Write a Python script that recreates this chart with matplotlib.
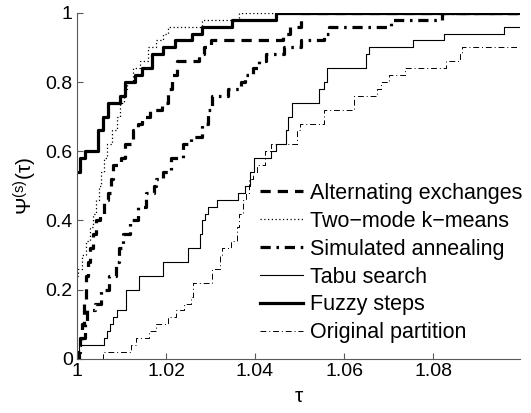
import numpy as np
import matplotlib
matplotlib.use("Agg")
import matplotlib.pyplot as plt

plt.rcParams['font.family'] = ['Liberation Sans', 'DejaVu Sans']
plt.rcParams['mathtext.default'] = 'regular'

# performance profiles (tau, psi), step after each tau
alt_tau = [1.0, 1.0004, 1.0007, 1.0011, 1.0016, 1.0020, 1.0025, 1.0029, 1.0036, 1.0043,
           1.0052, 1.0061, 1.0070, 1.0076, 1.0081, 1.0099, 1.0108, 1.0126, 1.0137, 1.0146,
           1.0164, 1.0191, 1.0204, 1.0213, 1.0224, 1.0274, 1.0285, 1.0300, 1.0462, 1.0478, 1.0504]
alt_psi = [0, .02, .06, .10, .16, .24, .28, .32, .36, .40,
           .42, .46, .48, .52, .56, .58, .62, .66, .68, .70,
           .72, .74, .78, .82, .86, .88, .90, .92, .94, .96, 1.0]

km_tau = [1.0, 1.0002, 1.0011, 1.0020, 1.0029, 1.0036, 1.0043, 1.0049, 1.0054, 1.0061,
          1.0067, 1.0078, 1.0090, 1.0096, 1.0105, 1.0112, 1.0126, 1.0141, 1.0159, 1.0177,
          1.0193, 1.0204, 1.0280, 1.0365]
km_psi = [.24, .26, .30, .34, .38, .42, .46, .50, .54, .58,
          .62, .66, .70, .74, .78, .80, .84, .86, .90, .92,
          .94, .96, .98, 1.0]

sa_tau = [1.0, 1.0002, 1.0007, 1.0011, 1.0018, 1.0022, 1.0040, 1.0054, 1.0072, 1.0087,
          1.0094, 1.0103, 1.0119, 1.0137, 1.0155, 1.0173, 1.0177, 1.0193, 1.0211, 1.0238,
          1.0256, 1.0280, 1.0294, 1.0303, 1.0339, 1.0368, 1.0377, 1.0395, 1.0410, 1.0424,
          1.0464, 1.0504, 1.0554, 1.0567, 1.0706, 1.0821]
sa_psi = [0, .02, .04, .06, .10, .14, .16, .20, .24, .28,
          .32, .36, .40, .44, .48, .50, .52, .54, .58, .62,
          .64, .68, .72, .76, .78, .80, .82, .84, .86, .88,
          .90, .92, .94, .96, .98, 1.0]

tabu_tau = [1.0, 1.0004, 1.0061, 1.0067, 1.0074, 1.0081, 1.0090, 1.0110, 1.0139, 1.0193,
            1.0249, 1.0276, 1.0280, 1.0287, 1.0294, 1.0314, 1.0361, 1.0377, 1.0388, 1.0397,
            1.0435, 1.0446, 1.0469, 1.0475, 1.0482, 1.0543, 1.0554, 1.0561, 1.0650, 1.0657,
            1.0756, 1.0825, 1.0960]
tabu_psi = [0, .04, .06, .08, .10, .12, .14, .20, .24, .28,
            .32, .36, .40, .42, .44, .46, .48, .50, .54, .58,
            .60, .62, .66, .70, .74, .78, .80, .84, .88, .90,
            .92, .94, .96]

fz_tau = [1.0, 1.0007, 1.0018, 1.0047, 1.0058, 1.0070, 1.0096, 1.0108, 1.0130, 1.0146,
          1.0168, 1.0193, 1.0220, 1.0258, 1.0280, 1.0348, 1.0448]
fz_psi = [.54, .58, .60, .66, .70, .74, .76, .80, .82, .84,
          .88, .90, .92, .94, .96, .98, 1.0]

orig_tau = [1.0, 1.0058, 1.0121, 1.0132, 1.0161, 1.0177, 1.0204, 1.0222, 1.0240, 1.0256,
            1.0260, 1.0303, 1.0321, 1.0325, 1.0345, 1.0359, 1.0365, 1.0372, 1.0379, 1.0386,
            1.0395, 1.0404, 1.0422, 1.0437, 1.0495, 1.0500, 1.0556, 1.0623, 1.0673, 1.0682,
            1.0702, 1.0738, 1.0830, 1.0861, 1.0865]
orig_psi = [0, .02, .04, .06, .08, .10, .12, .14, .16, .18,
            .22, .26, .30, .32, .34, .38, .42, .46, .48, .52,
            .54, .56, .60, .62, .66, .68, .72, .76, .78, .80,
            .82, .84, .86, .88, .90]

labels = ['Alternating exchanges', 'Two\u2212mode k\u2212means', 'Simulated annealing',
          'Tabu search', 'Fuzzy steps', 'Original partition']
xmax = 1.0995

fig = plt.figure(figsize=(5.31, 4.13), dpi=100)
ax = fig.add_axes([0.145, 0.131, 0.834, 0.838])

series = [(alt_tau, alt_psi, dict(ls=(0, (3.2, 2.2)), lw=2.3)),
          (km_tau, km_psi, dict(ls=(0, (1, 2)), lw=0.9)),
          (sa_tau, sa_psi, dict(ls=(0, (3.2, 1.8, 0.8, 1.8)), lw=2.3)),
          (tabu_tau, tabu_psi, dict(ls='-', lw=0.8)),
          (fz_tau, fz_psi, dict(ls='-', lw=2.3)),
          (orig_tau, orig_psi, dict(ls=(0, (6, 3, 1, 3)), lw=0.7))]

for (t, p, st), lab in zip(series, labels):
    t = np.append(t, xmax)
    p = np.append(p, p[-1])
    ax.step(t, p, where='post', color='black', label=lab, **st)

ax.set_xlim(1, xmax)
ax.set_ylim(0, 1)
ax.set_xticks([1, 1.02, 1.04, 1.06, 1.08])
ax.set_xticklabels(['1', '1.02', '1.04', '1.06', '1.08'])
ax.set_yticks([0, 0.2, 0.4, 0.6, 0.8, 1])
ax.set_yticklabels(['0', '0.2', '0.4', '0.6', '0.8', '1'])
for s in ['top', 'right']:
    ax.spines[s].set_visible(False)
for s in ['left', 'bottom']:
    ax.spines[s].set_color('#5a5a5a')
ax.tick_params(direction='in', length=4, color='#5a5a5a', labelsize=14, pad=3)
ax.set_xlabel('\u03c4', fontsize=15, labelpad=5)
ax.set_ylabel('$\u03a8^{(s)}(\u03c4)$', fontsize=15, labelpad=5)

ax.legend(loc='lower right', bbox_to_anchor=(1.025, 0.02), frameon=False, fontsize=15.5,
          handlelength=2.0, handletextpad=0.3, labelspacing=0.32, borderaxespad=0)

fig.savefig('out.png', dpi=100)
